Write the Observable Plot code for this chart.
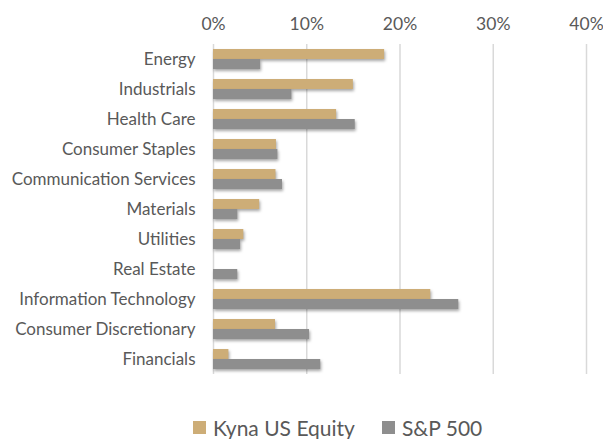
<!DOCTYPE html>
<html><head><meta charset="utf-8">
<script src="https://cdn.jsdelivr.net/npm/d3@7"></script>
<script src="https://cdn.jsdelivr.net/npm/@observablehq/plot@0.6"></script>
<style>
body{margin:0;background:#fff;font-family:Lato,"Open Sans",sans-serif;}
#legend{display:flex;justify-content:flex-start;font-size:21px;color:#595959;height:44px;align-items:center;}
.sw{display:inline-block;width:13px;height:13px;margin-right:7px;}
.item{display:flex;align-items:center;}
</style></head>
<body>
<div id="chart"></div>
<div id="legend"></div>
<script>
const categories = ["Energy","Industrials","Health Care","Consumer Staples","Communication Services","Materials","Utilities","Real Estate","Information Technology","Consumer Discretionary","Financials"];
const seriesNames = ["Kyna US Equity","S&P 500"];
const kyna = [0.1835,0.150,0.132,0.0675,0.067,0.0495,0.0325,0,0.233,0.0665,0.0165];
const sp500 = [0.0505,0.084,0.152,0.069,0.074,0.026,0.029,0.026,0.263,0.103,0.115];
const xTicks = [0,0.1,0.2,0.3,0.4];
const colors = ["#CDAD77","#8E8E8E"];

const data = [];
categories.forEach((c,i)=>{
  data.push({category:c, series:seriesNames[0], value:kyna[i]});
  data.push({category:c, series:seriesNames[1], value:sp500[i]});
});

const chart = Plot.plot({
  width:603, height:405,
  marginTop:43, marginBottom:30, marginLeft:213, marginRight:17,
  style:{fontFamily:"Lato, 'Open Sans', sans-serif", color:"#595959", background:"#fff"},
  x:{domain:[0,0.4], axis:"top", ticks:xTicks, tickFormat:d=>Math.round(d*100)+"%", tickSize:0, tickPadding:15, label:null},
  y:{domain:seriesNames, axis:null, paddingInner:0, paddingOuter:0.5},
  fy:{domain:categories, padding:0, axis:"left", label:null, tickSize:0, tickPadding:18},
  color:{domain:seriesNames, range:colors},
  facet:{data, y:"category", label:null},
  marks:[
    Plot.gridX(xTicks,{stroke:"#d9d9d9", strokeOpacity:1, strokeWidth:1.5}),
    Plot.barX(data,{x:"value", y:"series", fill:"series", inset:0})
  ]
});
document.getElementById("chart").appendChild(chart);
const svg = d3.select(chart);
svg.selectAll("[aria-label='x-axis tick label']").style("font-size","17.5px");
svg.selectAll("[aria-label='fy-axis tick label']").style("font-size","17px");
svg.selectAll("[aria-label='bar'] rect").style("filter","drop-shadow(1.5px 2px 1.5px rgba(0,0,0,0.35))");

const lg = d3.select("#legend").style("padding-left","193px");
seriesNames.forEach((s,i)=>{
  const it = lg.append("div").attr("class","item").style("margin-right", i===0?"27px":"0");
  it.append("span").attr("class","sw").style("background",colors[i]);
  it.append("span").text(s);
});
</script>
</body></html>
